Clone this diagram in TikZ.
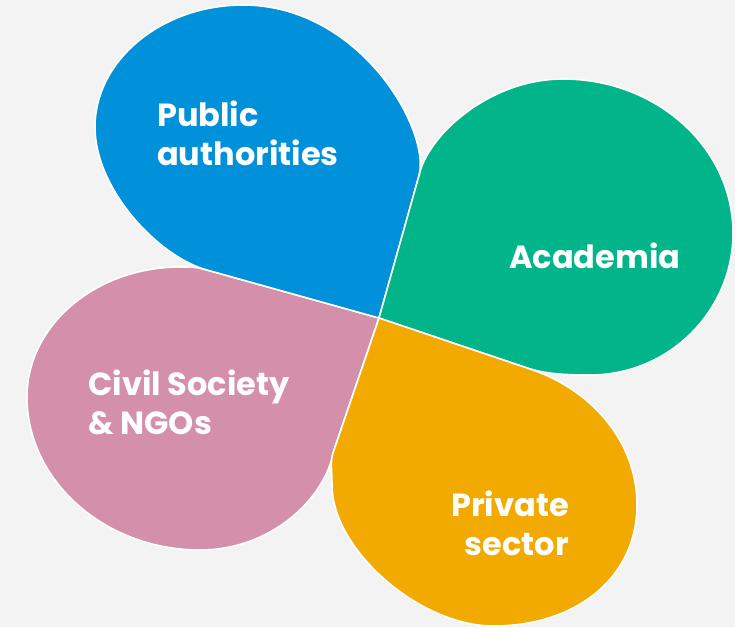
\documentclass[tikz,border=0pt]{standalone}
\usepackage{fontspec}
\setmainfont{Poppins}
\definecolor{bggray}{RGB}{243,243,243}
\definecolor{pubblue}{RGB}{0,145,218}
\definecolor{acagreen}{RGB}{2,180,137}
\definecolor{privorange}{RGB}{242,170,0}
\definecolor{civpink}{RGB}{212,144,170}
\tikzset{
  petal/.style={draw=white, line width=1.6pt, line join=round},
  lbl/.style={text=white, inner sep=0pt, font=\bfseries\fontsize{32}{39}\selectfont}
}
\begin{document}
\begin{tikzpicture}[x=1pt,y=-1pt]
\useasboundingbox (0,0) rectangle (735,627);
\fill[bggray] (0,0) rectangle (735,627);
\coordinate (c) at (379,318);
% civil society
\path[petal, fill=civpink] (c) -- (334,450) .. controls (325,500) and (270,550) .. (200,550)
  .. controls (105,550) and (27,481) .. (27,397) .. controls (27,325) and (96,267) .. (180,267)
  .. controls (192,267) and (197,267) .. (207,270) -- cycle;
% public authorities
\path[petal, fill=pubblue] (c) -- (419,176) .. controls (431,130) and (360,5) .. (243,5)
  .. controls (162,5) and (95,60) .. (95,127) .. controls (95,190) and (159,257) .. (207,270) -- cycle;
% academia
\path[petal, fill=acagreen] (c) -- (420,172) .. controls (430,134) and (490,79) .. (563,79)
  .. controls (657,79) and (733,148) .. (733,233) .. controls (733,311) and (669,375) .. (590,375)
  .. controls (566,375) and (546,374) .. (527,368) -- cycle;
% private sector
\path[petal, fill=privorange] (c) -- (533,370) .. controls (590,390) and (637,440) .. (637,505)
  .. controls (637,576) and (578,626) .. (493,626) .. controls (420,626) and (332,550) .. (332,485)
  .. controls (332,470) and (330,462) .. (333,453) -- cycle;
% labels
\node[lbl, anchor=base west, align=left] (pub) at (157,165) {Public\\authorities};
\node[lbl, anchor=base west] (aca) at (509,268) {Academia};
\node[lbl, anchor=base west, align=left] (civ) at (88,434) {Civil Society\\\& NGOs};
\node[lbl, anchor=base east, align=right] (pri) at (569,555) {Private\\sector};
\end{tikzpicture}
\end{document}
